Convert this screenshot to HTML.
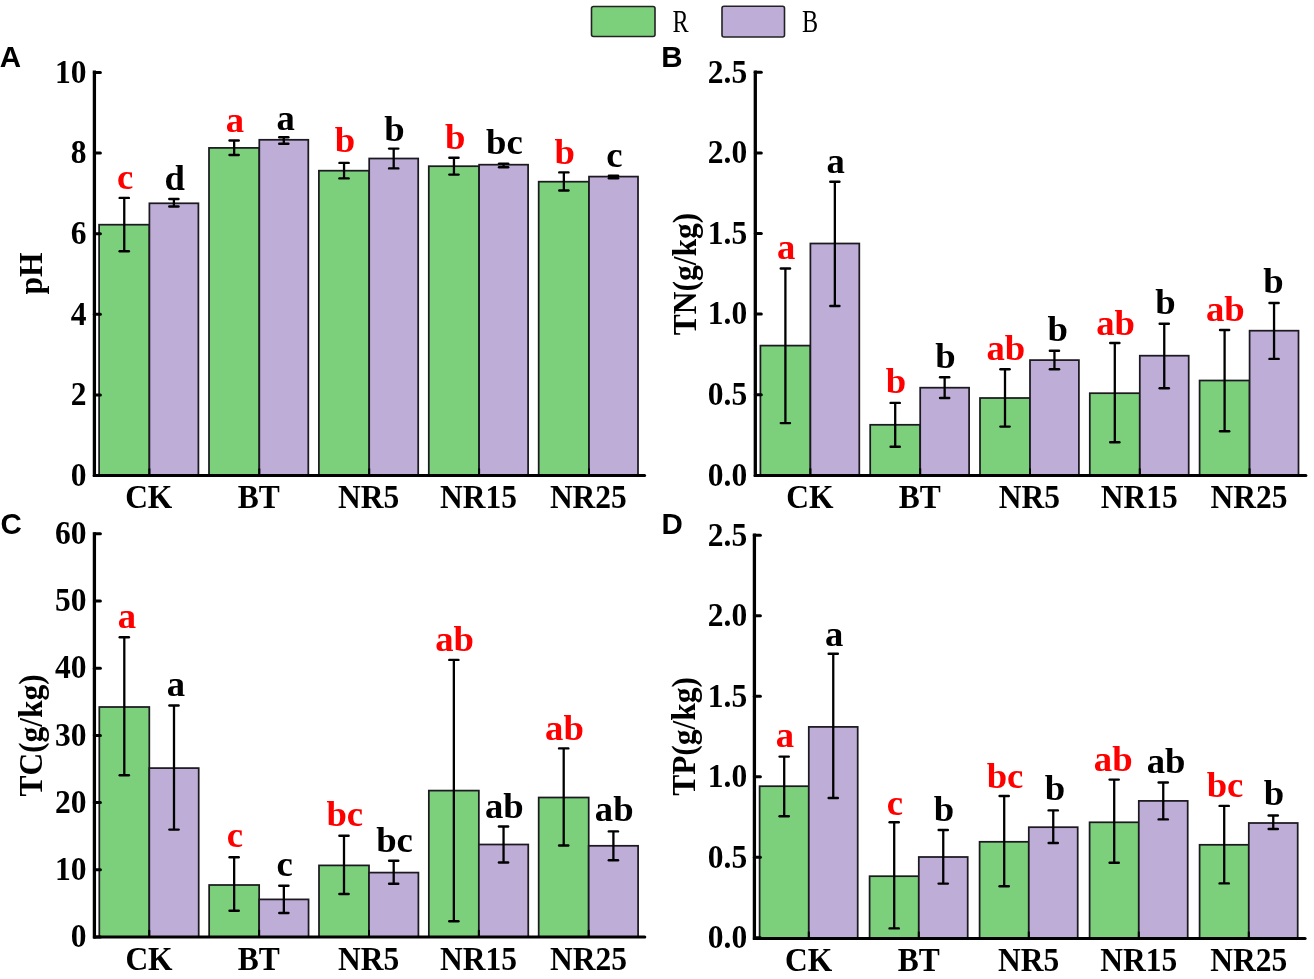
<!DOCTYPE html><html><head><meta charset="utf-8"><title>Soil properties chart</title>
<style>html,body{margin:0;padding:0;background:#fff;}body{width:1314px;height:979px;overflow:hidden;}svg{display:block;filter:blur(0.4px);}.t{font-family:"Liberation Serif",serif;font-weight:bold;}.s{font-family:"Liberation Sans",sans-serif;font-weight:bold;}.r{font-family:"Liberation Serif",serif;font-weight:normal;}</style></head><body>
<svg width="1314" height="979" viewBox="0 0 1314 979">
<rect x="0" y="0" width="1314" height="979" fill="#fff"/>
<rect x="99.10" y="224.70" width="50.30" height="250.80" fill="#7cd07c" stroke="#1c1a20" stroke-width="1.75"/>
<rect x="149.40" y="203.30" width="49.00" height="272.20" fill="#beaed7" stroke="#1c1a20" stroke-width="1.75"/>
<rect x="209.00" y="147.90" width="50.30" height="327.60" fill="#7cd07c" stroke="#1c1a20" stroke-width="1.75"/>
<rect x="259.30" y="139.80" width="49.00" height="335.70" fill="#beaed7" stroke="#1c1a20" stroke-width="1.75"/>
<rect x="318.90" y="170.70" width="50.30" height="304.80" fill="#7cd07c" stroke="#1c1a20" stroke-width="1.75"/>
<rect x="369.20" y="158.50" width="49.00" height="317.00" fill="#beaed7" stroke="#1c1a20" stroke-width="1.75"/>
<rect x="428.80" y="166.20" width="50.30" height="309.30" fill="#7cd07c" stroke="#1c1a20" stroke-width="1.75"/>
<rect x="479.10" y="164.70" width="49.00" height="310.80" fill="#beaed7" stroke="#1c1a20" stroke-width="1.75"/>
<rect x="538.70" y="181.70" width="50.30" height="293.80" fill="#7cd07c" stroke="#1c1a20" stroke-width="1.75"/>
<rect x="589.00" y="176.60" width="49.00" height="298.90" fill="#beaed7" stroke="#1c1a20" stroke-width="1.75"/>
<line x1="124.25" y1="197.90" x2="124.25" y2="251.20" stroke="#000" stroke-width="2.3"/>
<line x1="119.65" y1="197.90" x2="128.85" y2="197.90" stroke="#000" stroke-width="2.4" stroke-linecap="round"/>
<line x1="119.65" y1="251.20" x2="128.85" y2="251.20" stroke="#000" stroke-width="2.4" stroke-linecap="round"/>
<text class="t" x="0" y="0" font-size="34.00" text-anchor="middle" fill="#ff0000" transform="translate(125.05 189.20) scale(1.080 1.040)">c</text>
<line x1="173.90" y1="199.00" x2="173.90" y2="206.50" stroke="#000" stroke-width="2.3"/>
<line x1="169.30" y1="199.00" x2="178.50" y2="199.00" stroke="#000" stroke-width="2.4" stroke-linecap="round"/>
<line x1="169.30" y1="206.50" x2="178.50" y2="206.50" stroke="#000" stroke-width="2.4" stroke-linecap="round"/>
<text class="t" x="0" y="0" font-size="34.00" text-anchor="middle" fill="#000" transform="translate(174.70 190.30) scale(1.080 1.040)">d</text>
<line x1="234.15" y1="140.50" x2="234.15" y2="155.00" stroke="#000" stroke-width="2.3"/>
<line x1="229.55" y1="140.50" x2="238.75" y2="140.50" stroke="#000" stroke-width="2.4" stroke-linecap="round"/>
<line x1="229.55" y1="155.00" x2="238.75" y2="155.00" stroke="#000" stroke-width="2.4" stroke-linecap="round"/>
<text class="t" x="0" y="0" font-size="34.00" text-anchor="middle" fill="#ff0000" transform="translate(234.95 131.70) scale(1.080 1.040)">a</text>
<line x1="283.80" y1="137.30" x2="283.80" y2="143.70" stroke="#000" stroke-width="2.3"/>
<line x1="279.20" y1="137.30" x2="288.40" y2="137.30" stroke="#000" stroke-width="2.4" stroke-linecap="round"/>
<line x1="279.20" y1="143.70" x2="288.40" y2="143.70" stroke="#000" stroke-width="2.4" stroke-linecap="round"/>
<text class="t" x="0" y="0" font-size="34.00" text-anchor="middle" fill="#000" transform="translate(285.60 129.60) scale(1.080 1.040)">a</text>
<line x1="344.05" y1="162.90" x2="344.05" y2="178.40" stroke="#000" stroke-width="2.3"/>
<line x1="339.45" y1="162.90" x2="348.65" y2="162.90" stroke="#000" stroke-width="2.4" stroke-linecap="round"/>
<line x1="339.45" y1="178.40" x2="348.65" y2="178.40" stroke="#000" stroke-width="2.4" stroke-linecap="round"/>
<text class="t" x="0" y="0" font-size="34.00" text-anchor="middle" fill="#ff0000" transform="translate(344.85 152.30) scale(1.080 1.040)">b</text>
<line x1="393.70" y1="148.60" x2="393.70" y2="168.40" stroke="#000" stroke-width="2.3"/>
<line x1="389.10" y1="148.60" x2="398.30" y2="148.60" stroke="#000" stroke-width="2.4" stroke-linecap="round"/>
<line x1="389.10" y1="168.40" x2="398.30" y2="168.40" stroke="#000" stroke-width="2.4" stroke-linecap="round"/>
<text class="t" x="0" y="0" font-size="34.00" text-anchor="middle" fill="#000" transform="translate(394.50 140.50) scale(1.080 1.040)">b</text>
<line x1="453.95" y1="157.80" x2="453.95" y2="174.60" stroke="#000" stroke-width="2.3"/>
<line x1="449.35" y1="157.80" x2="458.55" y2="157.80" stroke="#000" stroke-width="2.4" stroke-linecap="round"/>
<line x1="449.35" y1="174.60" x2="458.55" y2="174.60" stroke="#000" stroke-width="2.4" stroke-linecap="round"/>
<text class="t" x="0" y="0" font-size="34.00" text-anchor="middle" fill="#ff0000" transform="translate(455.15 149.40) scale(1.080 1.040)">b</text>
<line x1="503.60" y1="163.60" x2="503.60" y2="167.30" stroke="#000" stroke-width="2.3"/>
<line x1="499.00" y1="163.60" x2="508.20" y2="163.60" stroke="#000" stroke-width="2.4" stroke-linecap="round"/>
<line x1="499.00" y1="167.30" x2="508.20" y2="167.30" stroke="#000" stroke-width="2.4" stroke-linecap="round"/>
<text class="t" x="0" y="0" font-size="34.00" text-anchor="middle" fill="#000" transform="translate(504.40 154.30) scale(1.080 1.040)">bc</text>
<line x1="563.85" y1="172.40" x2="563.85" y2="190.50" stroke="#000" stroke-width="2.3"/>
<line x1="559.25" y1="172.40" x2="568.45" y2="172.40" stroke="#000" stroke-width="2.4" stroke-linecap="round"/>
<line x1="559.25" y1="190.50" x2="568.45" y2="190.50" stroke="#000" stroke-width="2.4" stroke-linecap="round"/>
<text class="t" x="0" y="0" font-size="34.00" text-anchor="middle" fill="#ff0000" transform="translate(564.65 163.70) scale(1.080 1.040)">b</text>
<line x1="613.50" y1="175.70" x2="613.50" y2="178.30" stroke="#000" stroke-width="2.3"/>
<line x1="608.90" y1="175.70" x2="618.10" y2="175.70" stroke="#000" stroke-width="2.4" stroke-linecap="round"/>
<line x1="608.90" y1="178.30" x2="618.10" y2="178.30" stroke="#000" stroke-width="2.4" stroke-linecap="round"/>
<text class="t" x="0" y="0" font-size="34.00" text-anchor="middle" fill="#000" transform="translate(614.30 167.00) scale(1.080 1.040)">c</text>
<line x1="94.40" y1="70.60" x2="94.40" y2="477.00" stroke="#000" stroke-width="3.3"/>
<line x1="94.40" y1="475.50" x2="644.60" y2="475.50" stroke="#000" stroke-width="3" stroke-linecap="round"/>
<line x1="94.40" y1="72.50" x2="100.40" y2="72.50" stroke="#000" stroke-width="3" stroke-linecap="round"/>
<text class="t" x="0" y="0" font-size="31.50" text-anchor="end" fill="#000" transform="translate(86.60 82.70) scale(1 1.060)">10</text>
<line x1="94.40" y1="153.10" x2="100.40" y2="153.10" stroke="#000" stroke-width="3" stroke-linecap="round"/>
<text class="t" x="0" y="0" font-size="31.50" text-anchor="end" fill="#000" transform="translate(86.60 163.30) scale(1 1.060)">8</text>
<line x1="94.40" y1="233.70" x2="100.40" y2="233.70" stroke="#000" stroke-width="3" stroke-linecap="round"/>
<text class="t" x="0" y="0" font-size="31.50" text-anchor="end" fill="#000" transform="translate(86.60 243.90) scale(1 1.060)">6</text>
<line x1="94.40" y1="314.30" x2="100.40" y2="314.30" stroke="#000" stroke-width="3" stroke-linecap="round"/>
<text class="t" x="0" y="0" font-size="31.50" text-anchor="end" fill="#000" transform="translate(86.60 324.50) scale(1 1.060)">4</text>
<line x1="94.40" y1="394.90" x2="100.40" y2="394.90" stroke="#000" stroke-width="3" stroke-linecap="round"/>
<text class="t" x="0" y="0" font-size="31.50" text-anchor="end" fill="#000" transform="translate(86.60 405.10) scale(1 1.060)">2</text>
<line x1="94.40" y1="475.50" x2="100.40" y2="475.50" stroke="#000" stroke-width="3" stroke-linecap="round"/>
<text class="t" x="0" y="0" font-size="31.50" text-anchor="end" fill="#000" transform="translate(86.60 485.70) scale(1 1.060)">0</text>
<line x1="149.40" y1="468.50" x2="149.40" y2="475.50" stroke="#000" stroke-width="2"/>
<text class="t" x="0" y="0" font-size="31.50" text-anchor="middle" fill="#000" transform="translate(148.75 508.10) scale(1 1.060)">CK</text>
<line x1="259.30" y1="468.50" x2="259.30" y2="475.50" stroke="#000" stroke-width="2"/>
<text class="t" x="0" y="0" font-size="31.50" text-anchor="middle" fill="#000" transform="translate(258.65 508.10) scale(1 1.060)">BT</text>
<line x1="369.20" y1="468.50" x2="369.20" y2="475.50" stroke="#000" stroke-width="2"/>
<text class="t" x="0" y="0" font-size="31.50" text-anchor="middle" fill="#000" transform="translate(368.55 508.10) scale(1 1.060)">NR5</text>
<line x1="479.10" y1="468.50" x2="479.10" y2="475.50" stroke="#000" stroke-width="2"/>
<text class="t" x="0" y="0" font-size="31.50" text-anchor="middle" fill="#000" transform="translate(478.45 508.10) scale(1 1.060)">NR15</text>
<line x1="589.00" y1="468.50" x2="589.00" y2="475.50" stroke="#000" stroke-width="2"/>
<text class="t" x="0" y="0" font-size="31.50" text-anchor="middle" fill="#000" transform="translate(588.35 508.10) scale(1 1.060)">NR25</text>
<text class="t" x="0" y="0" font-size="31.50" text-anchor="middle" fill="#000" transform="translate(20.40 273.60) rotate(-90) scale(1 1.060) translate(0 20.79)">pH</text>
<text class="s" x="-0.30" y="66.90" font-size="29.5" fill="#000">A</text>
<rect x="760.40" y="345.60" width="50.00" height="129.80" fill="#7cd07c" stroke="#1c1a20" stroke-width="1.75"/>
<rect x="810.40" y="243.50" width="48.90" height="231.90" fill="#beaed7" stroke="#1c1a20" stroke-width="1.75"/>
<rect x="870.20" y="424.80" width="50.00" height="50.60" fill="#7cd07c" stroke="#1c1a20" stroke-width="1.75"/>
<rect x="920.20" y="387.70" width="48.90" height="87.70" fill="#beaed7" stroke="#1c1a20" stroke-width="1.75"/>
<rect x="980.00" y="398.00" width="50.00" height="77.40" fill="#7cd07c" stroke="#1c1a20" stroke-width="1.75"/>
<rect x="1030.00" y="360.10" width="48.90" height="115.30" fill="#beaed7" stroke="#1c1a20" stroke-width="1.75"/>
<rect x="1089.80" y="393.20" width="50.00" height="82.20" fill="#7cd07c" stroke="#1c1a20" stroke-width="1.75"/>
<rect x="1139.80" y="355.70" width="48.90" height="119.70" fill="#beaed7" stroke="#1c1a20" stroke-width="1.75"/>
<rect x="1199.60" y="380.50" width="50.00" height="94.90" fill="#7cd07c" stroke="#1c1a20" stroke-width="1.75"/>
<rect x="1249.60" y="330.70" width="48.90" height="144.70" fill="#beaed7" stroke="#1c1a20" stroke-width="1.75"/>
<line x1="785.40" y1="268.50" x2="785.40" y2="423.10" stroke="#000" stroke-width="2.3"/>
<line x1="780.80" y1="268.50" x2="790.00" y2="268.50" stroke="#000" stroke-width="2.4" stroke-linecap="round"/>
<line x1="780.80" y1="423.10" x2="790.00" y2="423.10" stroke="#000" stroke-width="2.4" stroke-linecap="round"/>
<text class="t" x="0" y="0" font-size="34.00" text-anchor="middle" fill="#ff0000" transform="translate(786.20 259.40) scale(1.080 1.040)">a</text>
<line x1="834.85" y1="181.70" x2="834.85" y2="306.00" stroke="#000" stroke-width="2.3"/>
<line x1="830.25" y1="181.70" x2="839.45" y2="181.70" stroke="#000" stroke-width="2.4" stroke-linecap="round"/>
<line x1="830.25" y1="306.00" x2="839.45" y2="306.00" stroke="#000" stroke-width="2.4" stroke-linecap="round"/>
<text class="t" x="0" y="0" font-size="34.00" text-anchor="middle" fill="#000" transform="translate(835.65 172.80) scale(1.080 1.040)">a</text>
<line x1="895.20" y1="402.90" x2="895.20" y2="446.70" stroke="#000" stroke-width="2.3"/>
<line x1="890.60" y1="402.90" x2="899.80" y2="402.90" stroke="#000" stroke-width="2.4" stroke-linecap="round"/>
<line x1="890.60" y1="446.70" x2="899.80" y2="446.70" stroke="#000" stroke-width="2.4" stroke-linecap="round"/>
<text class="t" x="0" y="0" font-size="34.00" text-anchor="middle" fill="#ff0000" transform="translate(896.00 393.10) scale(1.080 1.040)">b</text>
<line x1="944.65" y1="377.20" x2="944.65" y2="398.00" stroke="#000" stroke-width="2.3"/>
<line x1="940.05" y1="377.20" x2="949.25" y2="377.20" stroke="#000" stroke-width="2.4" stroke-linecap="round"/>
<line x1="940.05" y1="398.00" x2="949.25" y2="398.00" stroke="#000" stroke-width="2.4" stroke-linecap="round"/>
<text class="t" x="0" y="0" font-size="34.00" text-anchor="middle" fill="#000" transform="translate(945.45 368.30) scale(1.080 1.040)">b</text>
<line x1="1005.00" y1="369.20" x2="1005.00" y2="426.60" stroke="#000" stroke-width="2.3"/>
<line x1="1000.40" y1="369.20" x2="1009.60" y2="369.20" stroke="#000" stroke-width="2.4" stroke-linecap="round"/>
<line x1="1000.40" y1="426.60" x2="1009.60" y2="426.60" stroke="#000" stroke-width="2.4" stroke-linecap="round"/>
<text class="t" x="0" y="0" font-size="34.00" text-anchor="middle" fill="#ff0000" transform="translate(1005.80 360.30) scale(1.080 1.040)">ab</text>
<line x1="1054.45" y1="350.80" x2="1054.45" y2="369.20" stroke="#000" stroke-width="2.3"/>
<line x1="1049.85" y1="350.80" x2="1059.05" y2="350.80" stroke="#000" stroke-width="2.4" stroke-linecap="round"/>
<line x1="1049.85" y1="369.20" x2="1059.05" y2="369.20" stroke="#000" stroke-width="2.4" stroke-linecap="round"/>
<text class="t" x="0" y="0" font-size="34.00" text-anchor="middle" fill="#000" transform="translate(1057.65 341.30) scale(1.080 1.040)">b</text>
<line x1="1114.80" y1="343.00" x2="1114.80" y2="442.30" stroke="#000" stroke-width="2.3"/>
<line x1="1110.20" y1="343.00" x2="1119.40" y2="343.00" stroke="#000" stroke-width="2.4" stroke-linecap="round"/>
<line x1="1110.20" y1="442.30" x2="1119.40" y2="442.30" stroke="#000" stroke-width="2.4" stroke-linecap="round"/>
<text class="t" x="0" y="0" font-size="34.00" text-anchor="middle" fill="#ff0000" transform="translate(1115.60 335.20) scale(1.080 1.040)">ab</text>
<line x1="1164.25" y1="323.80" x2="1164.25" y2="388.30" stroke="#000" stroke-width="2.3"/>
<line x1="1159.65" y1="323.80" x2="1168.85" y2="323.80" stroke="#000" stroke-width="2.4" stroke-linecap="round"/>
<line x1="1159.65" y1="388.30" x2="1168.85" y2="388.30" stroke="#000" stroke-width="2.4" stroke-linecap="round"/>
<text class="t" x="0" y="0" font-size="34.00" text-anchor="middle" fill="#000" transform="translate(1165.55 314.30) scale(1.080 1.040)">b</text>
<line x1="1224.60" y1="330.00" x2="1224.60" y2="431.20" stroke="#000" stroke-width="2.3"/>
<line x1="1220.00" y1="330.00" x2="1229.20" y2="330.00" stroke="#000" stroke-width="2.4" stroke-linecap="round"/>
<line x1="1220.00" y1="431.20" x2="1229.20" y2="431.20" stroke="#000" stroke-width="2.4" stroke-linecap="round"/>
<text class="t" x="0" y="0" font-size="34.00" text-anchor="middle" fill="#ff0000" transform="translate(1225.40 320.50) scale(1.080 1.040)">ab</text>
<line x1="1274.05" y1="303.00" x2="1274.05" y2="358.90" stroke="#000" stroke-width="2.3"/>
<line x1="1269.45" y1="303.00" x2="1278.65" y2="303.00" stroke="#000" stroke-width="2.4" stroke-linecap="round"/>
<line x1="1269.45" y1="358.90" x2="1278.65" y2="358.90" stroke="#000" stroke-width="2.4" stroke-linecap="round"/>
<text class="t" x="0" y="0" font-size="34.00" text-anchor="middle" fill="#000" transform="translate(1273.55 292.80) scale(1.080 1.040)">b</text>
<line x1="755.30" y1="70.60" x2="755.30" y2="476.90" stroke="#000" stroke-width="3.3"/>
<line x1="755.30" y1="475.40" x2="1305.90" y2="475.40" stroke="#000" stroke-width="3" stroke-linecap="round"/>
<line x1="755.30" y1="72.30" x2="761.30" y2="72.30" stroke="#000" stroke-width="3" stroke-linecap="round"/>
<text class="t" x="0" y="0" font-size="31.50" text-anchor="end" fill="#000" transform="translate(747.20 82.50) scale(1 1.060)">2.5</text>
<line x1="755.30" y1="152.90" x2="761.30" y2="152.90" stroke="#000" stroke-width="3" stroke-linecap="round"/>
<text class="t" x="0" y="0" font-size="31.50" text-anchor="end" fill="#000" transform="translate(747.20 163.10) scale(1 1.060)">2.0</text>
<line x1="755.30" y1="233.50" x2="761.30" y2="233.50" stroke="#000" stroke-width="3" stroke-linecap="round"/>
<text class="t" x="0" y="0" font-size="31.50" text-anchor="end" fill="#000" transform="translate(747.20 243.70) scale(1 1.060)">1.5</text>
<line x1="755.30" y1="314.10" x2="761.30" y2="314.10" stroke="#000" stroke-width="3" stroke-linecap="round"/>
<text class="t" x="0" y="0" font-size="31.50" text-anchor="end" fill="#000" transform="translate(747.20 324.30) scale(1 1.060)">1.0</text>
<line x1="755.30" y1="394.80" x2="761.30" y2="394.80" stroke="#000" stroke-width="3" stroke-linecap="round"/>
<text class="t" x="0" y="0" font-size="31.50" text-anchor="end" fill="#000" transform="translate(747.20 405.00) scale(1 1.060)">0.5</text>
<line x1="755.30" y1="475.40" x2="761.30" y2="475.40" stroke="#000" stroke-width="3" stroke-linecap="round"/>
<text class="t" x="0" y="0" font-size="31.50" text-anchor="end" fill="#000" transform="translate(747.20 485.60) scale(1 1.060)">0.0</text>
<line x1="810.40" y1="468.40" x2="810.40" y2="475.40" stroke="#000" stroke-width="2"/>
<text class="t" x="0" y="0" font-size="31.50" text-anchor="middle" fill="#000" transform="translate(809.85 508.00) scale(1 1.060)">CK</text>
<line x1="920.20" y1="468.40" x2="920.20" y2="475.40" stroke="#000" stroke-width="2"/>
<text class="t" x="0" y="0" font-size="31.50" text-anchor="middle" fill="#000" transform="translate(919.65 508.00) scale(1 1.060)">BT</text>
<line x1="1030.00" y1="468.40" x2="1030.00" y2="475.40" stroke="#000" stroke-width="2"/>
<text class="t" x="0" y="0" font-size="31.50" text-anchor="middle" fill="#000" transform="translate(1029.45 508.00) scale(1 1.060)">NR5</text>
<line x1="1139.80" y1="468.40" x2="1139.80" y2="475.40" stroke="#000" stroke-width="2"/>
<text class="t" x="0" y="0" font-size="31.50" text-anchor="middle" fill="#000" transform="translate(1139.25 508.00) scale(1 1.060)">NR15</text>
<line x1="1249.60" y1="468.40" x2="1249.60" y2="475.40" stroke="#000" stroke-width="2"/>
<text class="t" x="0" y="0" font-size="31.50" text-anchor="middle" fill="#000" transform="translate(1249.05 508.00) scale(1 1.060)">NR25</text>
<text class="t" x="0" y="0" font-size="31.50" text-anchor="middle" fill="#000" transform="translate(674.30 274.00) rotate(-90) scale(1 1.060) translate(0 20.79)">TN(g/kg)</text>
<text class="s" x="661.20" y="67.00" font-size="29.5" fill="#000">B</text>
<rect x="99.30" y="707.00" width="50.00" height="229.90" fill="#7cd07c" stroke="#1c1a20" stroke-width="1.75"/>
<rect x="149.30" y="768.10" width="49.40" height="168.80" fill="#beaed7" stroke="#1c1a20" stroke-width="1.75"/>
<rect x="209.15" y="885.00" width="50.00" height="51.90" fill="#7cd07c" stroke="#1c1a20" stroke-width="1.75"/>
<rect x="259.15" y="899.40" width="49.40" height="37.50" fill="#beaed7" stroke="#1c1a20" stroke-width="1.75"/>
<rect x="319.00" y="865.40" width="50.00" height="71.50" fill="#7cd07c" stroke="#1c1a20" stroke-width="1.75"/>
<rect x="369.00" y="872.60" width="49.40" height="64.30" fill="#beaed7" stroke="#1c1a20" stroke-width="1.75"/>
<rect x="428.85" y="790.60" width="50.00" height="146.30" fill="#7cd07c" stroke="#1c1a20" stroke-width="1.75"/>
<rect x="478.85" y="844.50" width="49.40" height="92.40" fill="#beaed7" stroke="#1c1a20" stroke-width="1.75"/>
<rect x="538.70" y="797.50" width="50.00" height="139.40" fill="#7cd07c" stroke="#1c1a20" stroke-width="1.75"/>
<rect x="588.70" y="845.80" width="49.40" height="91.10" fill="#beaed7" stroke="#1c1a20" stroke-width="1.75"/>
<line x1="124.30" y1="637.20" x2="124.30" y2="775.30" stroke="#000" stroke-width="2.3"/>
<line x1="119.70" y1="637.20" x2="128.90" y2="637.20" stroke="#000" stroke-width="2.4" stroke-linecap="round"/>
<line x1="119.70" y1="775.30" x2="128.90" y2="775.30" stroke="#000" stroke-width="2.4" stroke-linecap="round"/>
<text class="t" x="0" y="0" font-size="34.00" text-anchor="middle" fill="#ff0000" transform="translate(127.00 628.40) scale(1.080 1.040)">a</text>
<line x1="174.00" y1="705.50" x2="174.00" y2="829.60" stroke="#000" stroke-width="2.3"/>
<line x1="169.40" y1="705.50" x2="178.60" y2="705.50" stroke="#000" stroke-width="2.4" stroke-linecap="round"/>
<line x1="169.40" y1="829.60" x2="178.60" y2="829.60" stroke="#000" stroke-width="2.4" stroke-linecap="round"/>
<text class="t" x="0" y="0" font-size="34.00" text-anchor="middle" fill="#000" transform="translate(175.80 696.30) scale(1.080 1.040)">a</text>
<line x1="234.15" y1="857.20" x2="234.15" y2="910.80" stroke="#000" stroke-width="2.3"/>
<line x1="229.55" y1="857.20" x2="238.75" y2="857.20" stroke="#000" stroke-width="2.4" stroke-linecap="round"/>
<line x1="229.55" y1="910.80" x2="238.75" y2="910.80" stroke="#000" stroke-width="2.4" stroke-linecap="round"/>
<text class="t" x="0" y="0" font-size="34.00" text-anchor="middle" fill="#ff0000" transform="translate(234.95 846.80) scale(1.080 1.040)">c</text>
<line x1="283.85" y1="885.80" x2="283.85" y2="913.00" stroke="#000" stroke-width="2.3"/>
<line x1="279.25" y1="885.80" x2="288.45" y2="885.80" stroke="#000" stroke-width="2.4" stroke-linecap="round"/>
<line x1="279.25" y1="913.00" x2="288.45" y2="913.00" stroke="#000" stroke-width="2.4" stroke-linecap="round"/>
<text class="t" x="0" y="0" font-size="34.00" text-anchor="middle" fill="#000" transform="translate(284.65 875.60) scale(1.080 1.040)">c</text>
<line x1="344.00" y1="835.70" x2="344.00" y2="894.00" stroke="#000" stroke-width="2.3"/>
<line x1="339.40" y1="835.70" x2="348.60" y2="835.70" stroke="#000" stroke-width="2.4" stroke-linecap="round"/>
<line x1="339.40" y1="894.00" x2="348.60" y2="894.00" stroke="#000" stroke-width="2.4" stroke-linecap="round"/>
<text class="t" x="0" y="0" font-size="34.00" text-anchor="middle" fill="#ff0000" transform="translate(344.80 826.10) scale(1.080 1.040)">bc</text>
<line x1="393.70" y1="860.80" x2="393.70" y2="883.70" stroke="#000" stroke-width="2.3"/>
<line x1="389.10" y1="860.80" x2="398.30" y2="860.80" stroke="#000" stroke-width="2.4" stroke-linecap="round"/>
<line x1="389.10" y1="883.70" x2="398.30" y2="883.70" stroke="#000" stroke-width="2.4" stroke-linecap="round"/>
<text class="t" x="0" y="0" font-size="34.00" text-anchor="middle" fill="#000" transform="translate(394.50 851.80) scale(1.080 1.040)">bc</text>
<line x1="453.85" y1="659.90" x2="453.85" y2="921.30" stroke="#000" stroke-width="2.3"/>
<line x1="449.25" y1="659.90" x2="458.45" y2="659.90" stroke="#000" stroke-width="2.4" stroke-linecap="round"/>
<line x1="449.25" y1="921.30" x2="458.45" y2="921.30" stroke="#000" stroke-width="2.4" stroke-linecap="round"/>
<text class="t" x="0" y="0" font-size="34.00" text-anchor="middle" fill="#ff0000" transform="translate(454.65 650.80) scale(1.080 1.040)">ab</text>
<line x1="503.55" y1="826.50" x2="503.55" y2="862.50" stroke="#000" stroke-width="2.3"/>
<line x1="498.95" y1="826.50" x2="508.15" y2="826.50" stroke="#000" stroke-width="2.4" stroke-linecap="round"/>
<line x1="498.95" y1="862.50" x2="508.15" y2="862.50" stroke="#000" stroke-width="2.4" stroke-linecap="round"/>
<text class="t" x="0" y="0" font-size="34.00" text-anchor="middle" fill="#000" transform="translate(504.35 817.80) scale(1.080 1.040)">ab</text>
<line x1="563.70" y1="748.40" x2="563.70" y2="845.50" stroke="#000" stroke-width="2.3"/>
<line x1="559.10" y1="748.40" x2="568.30" y2="748.40" stroke="#000" stroke-width="2.4" stroke-linecap="round"/>
<line x1="559.10" y1="845.50" x2="568.30" y2="845.50" stroke="#000" stroke-width="2.4" stroke-linecap="round"/>
<text class="t" x="0" y="0" font-size="34.00" text-anchor="middle" fill="#ff0000" transform="translate(564.50 740.10) scale(1.080 1.040)">ab</text>
<line x1="613.40" y1="831.40" x2="613.40" y2="860.20" stroke="#000" stroke-width="2.3"/>
<line x1="608.80" y1="831.40" x2="618.00" y2="831.40" stroke="#000" stroke-width="2.4" stroke-linecap="round"/>
<line x1="608.80" y1="860.20" x2="618.00" y2="860.20" stroke="#000" stroke-width="2.4" stroke-linecap="round"/>
<text class="t" x="0" y="0" font-size="34.00" text-anchor="middle" fill="#000" transform="translate(614.20 820.80) scale(1.080 1.040)">ab</text>
<line x1="94.40" y1="532.20" x2="94.40" y2="938.40" stroke="#000" stroke-width="3.3"/>
<line x1="94.40" y1="936.90" x2="644.80" y2="936.90" stroke="#000" stroke-width="3" stroke-linecap="round"/>
<line x1="94.40" y1="533.80" x2="100.40" y2="533.80" stroke="#000" stroke-width="3" stroke-linecap="round"/>
<text class="t" x="0" y="0" font-size="31.50" text-anchor="end" fill="#000" transform="translate(86.60 544.00) scale(1 1.060)">60</text>
<line x1="94.40" y1="601.00" x2="100.40" y2="601.00" stroke="#000" stroke-width="3" stroke-linecap="round"/>
<text class="t" x="0" y="0" font-size="31.50" text-anchor="end" fill="#000" transform="translate(86.60 611.20) scale(1 1.060)">50</text>
<line x1="94.40" y1="668.20" x2="100.40" y2="668.20" stroke="#000" stroke-width="3" stroke-linecap="round"/>
<text class="t" x="0" y="0" font-size="31.50" text-anchor="end" fill="#000" transform="translate(86.60 678.40) scale(1 1.060)">40</text>
<line x1="94.40" y1="735.40" x2="100.40" y2="735.40" stroke="#000" stroke-width="3" stroke-linecap="round"/>
<text class="t" x="0" y="0" font-size="31.50" text-anchor="end" fill="#000" transform="translate(86.60 745.60) scale(1 1.060)">30</text>
<line x1="94.40" y1="802.60" x2="100.40" y2="802.60" stroke="#000" stroke-width="3" stroke-linecap="round"/>
<text class="t" x="0" y="0" font-size="31.50" text-anchor="end" fill="#000" transform="translate(86.60 812.80) scale(1 1.060)">20</text>
<line x1="94.40" y1="869.80" x2="100.40" y2="869.80" stroke="#000" stroke-width="3" stroke-linecap="round"/>
<text class="t" x="0" y="0" font-size="31.50" text-anchor="end" fill="#000" transform="translate(86.60 880.00) scale(1 1.060)">10</text>
<line x1="94.40" y1="937.00" x2="100.40" y2="937.00" stroke="#000" stroke-width="3" stroke-linecap="round"/>
<text class="t" x="0" y="0" font-size="31.50" text-anchor="end" fill="#000" transform="translate(86.60 947.20) scale(1 1.060)">0</text>
<line x1="149.30" y1="929.90" x2="149.30" y2="936.90" stroke="#000" stroke-width="2"/>
<text class="t" x="0" y="0" font-size="31.50" text-anchor="middle" fill="#000" transform="translate(149.00 969.50) scale(1 1.060)">CK</text>
<line x1="259.15" y1="929.90" x2="259.15" y2="936.90" stroke="#000" stroke-width="2"/>
<text class="t" x="0" y="0" font-size="31.50" text-anchor="middle" fill="#000" transform="translate(258.85 969.50) scale(1 1.060)">BT</text>
<line x1="369.00" y1="929.90" x2="369.00" y2="936.90" stroke="#000" stroke-width="2"/>
<text class="t" x="0" y="0" font-size="31.50" text-anchor="middle" fill="#000" transform="translate(368.70 969.50) scale(1 1.060)">NR5</text>
<line x1="478.85" y1="929.90" x2="478.85" y2="936.90" stroke="#000" stroke-width="2"/>
<text class="t" x="0" y="0" font-size="31.50" text-anchor="middle" fill="#000" transform="translate(478.55 969.50) scale(1 1.060)">NR15</text>
<line x1="588.70" y1="929.90" x2="588.70" y2="936.90" stroke="#000" stroke-width="2"/>
<text class="t" x="0" y="0" font-size="31.50" text-anchor="middle" fill="#000" transform="translate(588.40 969.50) scale(1 1.060)">NR25</text>
<text class="t" x="0" y="0" font-size="31.50" text-anchor="middle" fill="#000" transform="translate(20.40 735.40) rotate(-90) scale(1 1.060) translate(0 20.79)">TC(g/kg)</text>
<text class="s" x="0.40" y="534.40" font-size="29.5" fill="#000">C</text>
<rect x="759.60" y="786.20" width="49.20" height="152.40" fill="#7cd07c" stroke="#1c1a20" stroke-width="1.75"/>
<rect x="808.80" y="726.90" width="48.90" height="211.70" fill="#beaed7" stroke="#1c1a20" stroke-width="1.75"/>
<rect x="869.60" y="876.20" width="49.20" height="62.40" fill="#7cd07c" stroke="#1c1a20" stroke-width="1.75"/>
<rect x="918.80" y="857.00" width="48.90" height="81.60" fill="#beaed7" stroke="#1c1a20" stroke-width="1.75"/>
<rect x="979.60" y="841.80" width="49.20" height="96.80" fill="#7cd07c" stroke="#1c1a20" stroke-width="1.75"/>
<rect x="1028.80" y="827.20" width="48.90" height="111.40" fill="#beaed7" stroke="#1c1a20" stroke-width="1.75"/>
<rect x="1089.60" y="822.30" width="49.20" height="116.30" fill="#7cd07c" stroke="#1c1a20" stroke-width="1.75"/>
<rect x="1138.80" y="800.90" width="48.90" height="137.70" fill="#beaed7" stroke="#1c1a20" stroke-width="1.75"/>
<rect x="1199.60" y="844.80" width="49.20" height="93.80" fill="#7cd07c" stroke="#1c1a20" stroke-width="1.75"/>
<rect x="1248.80" y="823.00" width="48.90" height="115.60" fill="#beaed7" stroke="#1c1a20" stroke-width="1.75"/>
<line x1="784.20" y1="756.60" x2="784.20" y2="816.20" stroke="#000" stroke-width="2.3"/>
<line x1="779.60" y1="756.60" x2="788.80" y2="756.60" stroke="#000" stroke-width="2.4" stroke-linecap="round"/>
<line x1="779.60" y1="816.20" x2="788.80" y2="816.20" stroke="#000" stroke-width="2.4" stroke-linecap="round"/>
<text class="t" x="0" y="0" font-size="34.00" text-anchor="middle" fill="#ff0000" transform="translate(785.00 747.30) scale(1.080 1.040)">a</text>
<line x1="833.25" y1="653.80" x2="833.25" y2="798.00" stroke="#000" stroke-width="2.3"/>
<line x1="828.65" y1="653.80" x2="837.85" y2="653.80" stroke="#000" stroke-width="2.4" stroke-linecap="round"/>
<line x1="828.65" y1="798.00" x2="837.85" y2="798.00" stroke="#000" stroke-width="2.4" stroke-linecap="round"/>
<text class="t" x="0" y="0" font-size="34.00" text-anchor="middle" fill="#000" transform="translate(834.05 645.50) scale(1.080 1.040)">a</text>
<line x1="894.20" y1="822.30" x2="894.20" y2="928.40" stroke="#000" stroke-width="2.3"/>
<line x1="889.60" y1="822.30" x2="898.80" y2="822.30" stroke="#000" stroke-width="2.4" stroke-linecap="round"/>
<line x1="889.60" y1="928.40" x2="898.80" y2="928.40" stroke="#000" stroke-width="2.4" stroke-linecap="round"/>
<text class="t" x="0" y="0" font-size="34.00" text-anchor="middle" fill="#ff0000" transform="translate(895.00 814.60) scale(1.080 1.040)">c</text>
<line x1="943.25" y1="830.00" x2="943.25" y2="883.60" stroke="#000" stroke-width="2.3"/>
<line x1="938.65" y1="830.00" x2="947.85" y2="830.00" stroke="#000" stroke-width="2.4" stroke-linecap="round"/>
<line x1="938.65" y1="883.60" x2="947.85" y2="883.60" stroke="#000" stroke-width="2.4" stroke-linecap="round"/>
<text class="t" x="0" y="0" font-size="34.00" text-anchor="middle" fill="#000" transform="translate(944.05 821.40) scale(1.080 1.040)">b</text>
<line x1="1004.20" y1="796.00" x2="1004.20" y2="886.30" stroke="#000" stroke-width="2.3"/>
<line x1="999.60" y1="796.00" x2="1008.80" y2="796.00" stroke="#000" stroke-width="2.4" stroke-linecap="round"/>
<line x1="999.60" y1="886.30" x2="1008.80" y2="886.30" stroke="#000" stroke-width="2.4" stroke-linecap="round"/>
<text class="t" x="0" y="0" font-size="34.00" text-anchor="middle" fill="#ff0000" transform="translate(1005.00 787.70) scale(1.080 1.040)">bc</text>
<line x1="1053.25" y1="810.40" x2="1053.25" y2="843.00" stroke="#000" stroke-width="2.3"/>
<line x1="1048.65" y1="810.40" x2="1057.85" y2="810.40" stroke="#000" stroke-width="2.4" stroke-linecap="round"/>
<line x1="1048.65" y1="843.00" x2="1057.85" y2="843.00" stroke="#000" stroke-width="2.4" stroke-linecap="round"/>
<text class="t" x="0" y="0" font-size="34.00" text-anchor="middle" fill="#000" transform="translate(1054.85 799.90) scale(1.080 1.040)">b</text>
<line x1="1114.20" y1="779.60" x2="1114.20" y2="862.80" stroke="#000" stroke-width="2.3"/>
<line x1="1109.60" y1="779.60" x2="1118.80" y2="779.60" stroke="#000" stroke-width="2.4" stroke-linecap="round"/>
<line x1="1109.60" y1="862.80" x2="1118.80" y2="862.80" stroke="#000" stroke-width="2.4" stroke-linecap="round"/>
<text class="t" x="0" y="0" font-size="34.00" text-anchor="middle" fill="#ff0000" transform="translate(1113.20 771.40) scale(1.080 1.040)">ab</text>
<line x1="1163.25" y1="782.50" x2="1163.25" y2="819.40" stroke="#000" stroke-width="2.3"/>
<line x1="1158.65" y1="782.50" x2="1167.85" y2="782.50" stroke="#000" stroke-width="2.4" stroke-linecap="round"/>
<line x1="1158.65" y1="819.40" x2="1167.85" y2="819.40" stroke="#000" stroke-width="2.4" stroke-linecap="round"/>
<text class="t" x="0" y="0" font-size="34.00" text-anchor="middle" fill="#000" transform="translate(1166.05 773.00) scale(1.080 1.040)">ab</text>
<line x1="1224.20" y1="805.90" x2="1224.20" y2="883.40" stroke="#000" stroke-width="2.3"/>
<line x1="1219.60" y1="805.90" x2="1228.80" y2="805.90" stroke="#000" stroke-width="2.4" stroke-linecap="round"/>
<line x1="1219.60" y1="883.40" x2="1228.80" y2="883.40" stroke="#000" stroke-width="2.4" stroke-linecap="round"/>
<text class="t" x="0" y="0" font-size="34.00" text-anchor="middle" fill="#ff0000" transform="translate(1225.00 797.20) scale(1.080 1.040)">bc</text>
<line x1="1273.25" y1="815.50" x2="1273.25" y2="829.00" stroke="#000" stroke-width="2.3"/>
<line x1="1268.65" y1="815.50" x2="1277.85" y2="815.50" stroke="#000" stroke-width="2.4" stroke-linecap="round"/>
<line x1="1268.65" y1="829.00" x2="1277.85" y2="829.00" stroke="#000" stroke-width="2.4" stroke-linecap="round"/>
<text class="t" x="0" y="0" font-size="34.00" text-anchor="middle" fill="#000" transform="translate(1274.05 805.10) scale(1.080 1.040)">b</text>
<line x1="754.40" y1="533.60" x2="754.40" y2="940.10" stroke="#000" stroke-width="3.3"/>
<line x1="754.40" y1="938.60" x2="1305.10" y2="938.60" stroke="#000" stroke-width="3" stroke-linecap="round"/>
<line x1="754.40" y1="535.30" x2="760.40" y2="535.30" stroke="#000" stroke-width="3" stroke-linecap="round"/>
<text class="t" x="0" y="0" font-size="31.50" text-anchor="end" fill="#000" transform="translate(747.20 545.50) scale(1 1.060)">2.5</text>
<line x1="754.40" y1="615.80" x2="760.40" y2="615.80" stroke="#000" stroke-width="3" stroke-linecap="round"/>
<text class="t" x="0" y="0" font-size="31.50" text-anchor="end" fill="#000" transform="translate(747.20 626.00) scale(1 1.060)">2.0</text>
<line x1="754.40" y1="696.30" x2="760.40" y2="696.30" stroke="#000" stroke-width="3" stroke-linecap="round"/>
<text class="t" x="0" y="0" font-size="31.50" text-anchor="end" fill="#000" transform="translate(747.20 706.50) scale(1 1.060)">1.5</text>
<line x1="754.40" y1="776.80" x2="760.40" y2="776.80" stroke="#000" stroke-width="3" stroke-linecap="round"/>
<text class="t" x="0" y="0" font-size="31.50" text-anchor="end" fill="#000" transform="translate(747.20 787.00) scale(1 1.060)">1.0</text>
<line x1="754.40" y1="857.30" x2="760.40" y2="857.30" stroke="#000" stroke-width="3" stroke-linecap="round"/>
<text class="t" x="0" y="0" font-size="31.50" text-anchor="end" fill="#000" transform="translate(747.20 867.50) scale(1 1.060)">0.5</text>
<line x1="754.40" y1="937.80" x2="760.40" y2="937.80" stroke="#000" stroke-width="3" stroke-linecap="round"/>
<text class="t" x="0" y="0" font-size="31.50" text-anchor="end" fill="#000" transform="translate(747.20 948.00) scale(1 1.060)">0.0</text>
<line x1="808.80" y1="931.60" x2="808.80" y2="938.60" stroke="#000" stroke-width="2"/>
<text class="t" x="0" y="0" font-size="31.50" text-anchor="middle" fill="#000" transform="translate(808.65 971.20) scale(1 1.060)">CK</text>
<line x1="918.80" y1="931.60" x2="918.80" y2="938.60" stroke="#000" stroke-width="2"/>
<text class="t" x="0" y="0" font-size="31.50" text-anchor="middle" fill="#000" transform="translate(918.65 971.20) scale(1 1.060)">BT</text>
<line x1="1028.80" y1="931.60" x2="1028.80" y2="938.60" stroke="#000" stroke-width="2"/>
<text class="t" x="0" y="0" font-size="31.50" text-anchor="middle" fill="#000" transform="translate(1028.65 971.20) scale(1 1.060)">NR5</text>
<line x1="1138.80" y1="931.60" x2="1138.80" y2="938.60" stroke="#000" stroke-width="2"/>
<text class="t" x="0" y="0" font-size="31.50" text-anchor="middle" fill="#000" transform="translate(1138.65 971.20) scale(1 1.060)">NR15</text>
<line x1="1248.80" y1="931.60" x2="1248.80" y2="938.60" stroke="#000" stroke-width="2"/>
<text class="t" x="0" y="0" font-size="31.50" text-anchor="middle" fill="#000" transform="translate(1248.65 971.20) scale(1 1.060)">NR25</text>
<text class="t" x="0" y="0" font-size="31.50" text-anchor="middle" fill="#000" transform="translate(673.30 736.40) rotate(-90) scale(1 1.060) translate(0 20.79)">TP(g/kg)</text>
<text class="s" x="661.40" y="534.40" font-size="29.5" fill="#000">D</text>
<rect x="591.5" y="6.5" width="63.5" height="30" rx="2" fill="#7cd07c" stroke="#222" stroke-width="1.6"/>
<rect x="722" y="6.3" width="62.5" height="30.7" rx="2" fill="#beaed7" stroke="#222" stroke-width="1.6"/>
<text class="r" x="0" y="0" font-size="31" fill="#000" transform="translate(672.5 32.3) scale(0.78 1)">R</text>
<text class="r" x="0" y="0" font-size="31" fill="#000" transform="translate(802 32.3) scale(0.78 1)">B</text>
</svg></body></html>
